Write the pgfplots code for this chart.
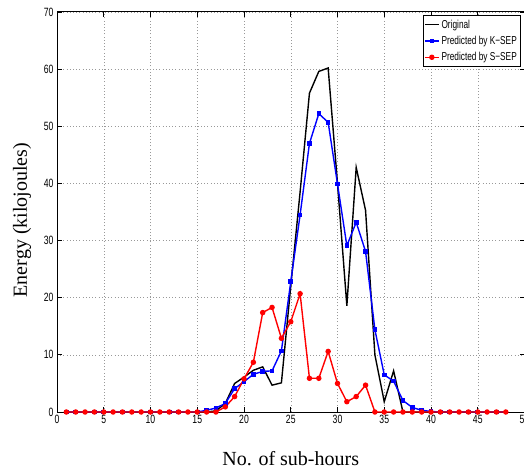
\documentclass[border=0pt]{standalone}
\usepackage{fontspec}
\setmainfont{Liberation Serif}
\newfontfamily\narrow[FakeStretch=0.72]{Liberation Sans}
\usepackage{pgfplots}
\pgfplotsset{compat=1.18}
\usetikzlibrary{calc}

\begin{document}
\begin{tikzpicture}
\begin{axis}[
    scale only axis,
    width=467.5pt,
    height=400pt,
    xmin=0, xmax=50,
    ymin=0, ymax=70,
    xtick={0,5,...,50},
    ytick={0,10,...,70},
    tick align=inside,
    tick pos=both,
    major tick length=5pt,
    grid=major,
    major grid style={gray!80, line width=0.5pt, dash pattern=on 1pt off 2.2pt},
    axis line style={line width=1pt},
    every tick/.style={black, line width=0.8pt},
    clip=false,
    /pgf/number format/assume math mode=true,
    ticklabel style={font=\narrow\fontsize{12}{12}\selectfont},
    xlabel={No. of sub-hours},
    ylabel={Energy (kilojoules)},
    label style={font=\fontsize{20}{20}\selectfont},
    xlabel style={at={(axis description cs:0.5,0)}, anchor=north, inner sep=0pt, yshift=-39pt},
    ylabel style={at={(axis description cs:0,0.48)}, anchor=center, inner sep=0pt, yshift=35pt},
    legend style={
        at={(1,1)}, anchor=north east, xshift=-4.5pt, yshift=-3pt,
        draw=black,
        font=\narrow\fontsize{11.5}{13}\selectfont,
        inner xsep=1pt, inner ysep=2.5pt,
        nodes={inner sep=2pt},
        row sep=2.5pt,
    },
    legend cell align=left,
    legend image code/.code={
        \draw[line width=1.4pt, mark repeat=2, mark phase=2]
            plot coordinates {(0pt,0pt) (7pt,0pt) (14pt,0pt)};
    },
]
\coordinate (ll) at (rel axis cs:0,0);
\coordinate (ur) at (rel axis cs:1,1);

% Original
\addplot[black, line width=1.4pt, no marks] coordinates {
    (1,0) (2,0) (3,0) (4,0) (5,0) (6,0) (7,0) (8,0) (9,0) (10,0)
    (11,0) (12,0) (13,0) (14,0) (15,0) (16,0) (17,0.2) (18,1.5) (19,5.0) (20,6.1)
    (21,7.3) (22,7.9) (23,4.7) (24,5.1) (25,22) (26,38.5) (27,55.8) (28,59.6) (29,60.2) (30,40)
    (31,18.6) (32,42.8) (33,35.3) (34,10) (35,1.8) (36,7.2) (37,0) (38,0) (39,0) (40,0)
    (41,0) (42,0) (43,0) (44,0) (45,0) (46,0) (47,0) (48,0)
};
\addlegendentry{Original}

% K-SEP
\addplot[blue, line width=1.4pt, mark=square*, mark size=1.6pt] coordinates {
    (1,0) (2,0) (3,0) (4,0) (5,0) (6,0) (7,0) (8,0) (9,0) (10,0)
    (11,0) (12,0) (13,0) (14,0) (15,0) (16,0.3) (17,0.7) (18,1.5) (19,4.1) (20,5.3)
    (21,6.6) (22,7.1) (23,7.2) (24,10.7) (25,22.8) (26,34.5) (27,47) (28,52.2) (29,50.7) (30,39.9)
    (31,29.1) (32,33.2) (33,28.1) (34,14.4) (35,6.5) (36,5.4) (37,2.0) (38,0.8) (39,0.3) (40,0.1)
    (41,0) (42,0) (43,0) (44,0) (45,0) (46,0) (47,0) (48,0)
};
\addlegendentry{Predicted by K−SEP}

% S-SEP
\addplot[red, line width=1.4pt, mark=*, mark size=2pt] coordinates {
    (1,0) (2,0) (3,0) (4,0) (5,0) (6,0) (7,0) (8,0) (9,0) (10,0)
    (11,0) (12,0) (13,0) (14,0) (15,0) (16,0) (17,0) (18,0.9) (19,2.7) (20,5.8)
    (21,8.7) (22,17.4) (23,18.3) (24,12.9) (25,15.8) (26,20.7) (27,5.9) (28,5.9) (29,10.6) (30,5.0)
    (31,1.8) (32,2.7) (33,4.7) (34,0) (35,0) (36,0) (37,0) (38,0) (39,0) (40,0)
    (41,0) (42,0) (43,0) (44,0) (45,0) (46,0) (47,0) (48,0)
};
\addlegendentry{Predicted by S−SEP}
\end{axis}
\pgfresetboundingbox
\path[use as bounding box] ($(ll)+(-57pt,-62pt)$) rectangle ($(ur)+(-0.5pt,12pt)$);
\end{tikzpicture}
\end{document}
